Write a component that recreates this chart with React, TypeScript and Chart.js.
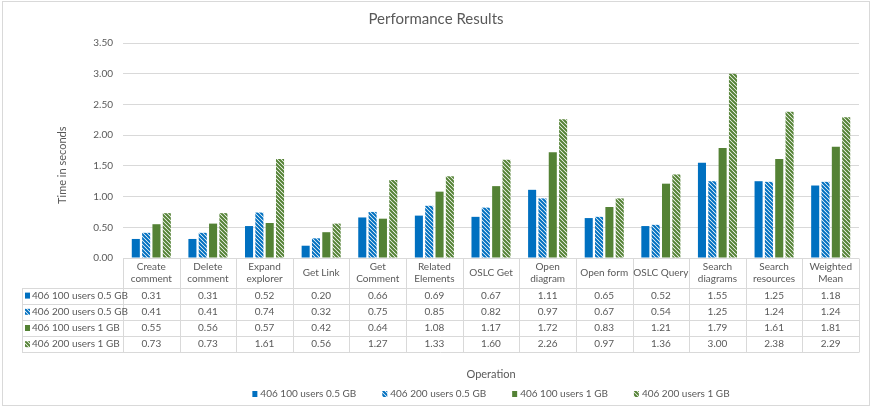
import { useEffect, useRef } from 'react';
import { Chart, registerables } from 'chart.js';

Chart.register(...registerables);

const categories: string[][] = [
  ['Create', 'comment'],
  ['Delete', 'comment'],
  ['Expand', 'explorer'],
  ['Get Link'],
  ['Get', 'Comment'],
  ['Related', 'Elements'],
  ['OSLC Get'],
  ['Open', 'diagram'],
  ['Open form'],
  ['OSLC Query'],
  ['Search', 'diagrams'],
  ['Search', 'resources'],
  ['Weighted', 'Mean'],
];

const seriesNames = [
  '406 100 users 0.5 GB',
  '406 200 users 0.5 GB',
  '406 100 users 1 GB',
  '406 200 users 1 GB',
];

const users100Half = [0.31, 0.31, 0.52, 0.2, 0.66, 0.69, 0.67, 1.11, 0.65, 0.52, 1.55, 1.25, 1.18];
const users200Half = [0.41, 0.41, 0.74, 0.32, 0.75, 0.85, 0.82, 0.97, 0.67, 0.54, 1.25, 1.24, 1.24];
const users100One = [0.55, 0.56, 0.57, 0.42, 0.64, 1.08, 1.17, 1.72, 0.83, 1.21, 1.79, 1.61, 1.81];
const users200One = [0.73, 0.73, 1.61, 0.56, 1.27, 1.33, 1.6, 2.26, 0.97, 1.36, 3.0, 2.38, 2.29];

const yTickValues = [0, 0.5, 1, 1.5, 2, 2.5, 3, 3.5];

const chartTitle = 'Performance Results';
const yTitle = 'Time in seconds';
const xTitle = 'Operation';

const BLUE = '#0070C0';
const GREEN = '#548235';
const TEXT = '#595959';
const GRID = '#d9d9d9';
const FONT = 'Lato, "Noto Sans", sans-serif';

const HEADER_H = 29;
const ROW_H = 16.2;
const TABLE_LEFT = 22;

function hatch(color: string): CanvasPattern | string {
  const c = document.createElement('canvas');
  c.width = 4;
  c.height = 4;
  const g = c.getContext('2d');
  if (!g) return color;
  g.fillStyle = '#ffffff';
  g.fillRect(0, 0, 4, 4);
  g.strokeStyle = color;
  g.lineWidth = 2;
  g.beginPath();
  g.moveTo(-1, -1);
  g.lineTo(5, 5);
  g.moveTo(-1, 3);
  g.lineTo(1, 5);
  g.moveTo(3, -1);
  g.lineTo(5, 1);
  g.stroke();
  return g.createPattern(c, 'repeat') || color;
}

const tablePlugin = {
  id: 'dataTable',
  afterDraw(chart: any) {
    const ctx: CanvasRenderingContext2D = chart.ctx;
    const xs = chart.scales.x;
    const area = chart.chartArea;
    const n = categories.length;
    const w = (xs.right - xs.left) / n;
    const top = Math.round(area.bottom) + 0.5;
    const headerBottom = top + HEADER_H;
    const rowsBottom = headerBottom + ROW_H * seriesNames.length;
    const datasets = chart.data.datasets;

    ctx.save();
    // outer border
    ctx.strokeStyle = GRID;
    ctx.lineWidth = 1;
    ctx.strokeRect(2.5, 1.5, chart.width - 5, chart.height - 2);

    // table lines
    ctx.beginPath();
    ctx.moveTo(xs.left, top);
    ctx.lineTo(xs.right, top);
    for (let r = 0; r <= seriesNames.length; r++) {
      const y = Math.round(headerBottom + ROW_H * r) + 0.5;
      ctx.moveTo(TABLE_LEFT, y);
      ctx.lineTo(xs.right, y);
    }
    for (let i = 0; i <= n; i++) {
      const x = Math.round(xs.left + w * i) + 0.5;
      ctx.moveTo(x, top);
      ctx.lineTo(x, Math.round(rowsBottom) + 0.5);
    }
    ctx.moveTo(TABLE_LEFT + 0.5, Math.round(headerBottom) + 0.5);
    ctx.lineTo(TABLE_LEFT + 0.5, Math.round(rowsBottom) + 0.5);
    ctx.stroke();

    ctx.fillStyle = TEXT;
    ctx.font = `10px ${FONT}`;
    ctx.textAlign = 'center';
    ctx.textBaseline = 'middle';
    // header
    for (let i = 0; i < n; i++) {
      const cx = xs.getPixelForValue(i);
      const lines = categories[i];
      const lh = 12;
      const y0 = top + HEADER_H / 2 - ((lines.length - 1) * lh) / 2;
      lines.forEach((t, k) => ctx.fillText(t, cx, y0 + k * lh));
    }
    // rows
    datasets.forEach((ds: any, r: number) => {
      const cy = headerBottom + ROW_H * (r + 0.5);
      for (let i = 0; i < n; i++) {
        ctx.fillStyle = TEXT;
        ctx.textAlign = 'center';
        ctx.fillText(Number(ds.data[i]).toFixed(2), xs.getPixelForValue(i), cy);
      }
      ctx.fillStyle = ds.backgroundColor;
      ctx.fillRect(TABLE_LEFT + 3, cy - 3, 5, 6);
      ctx.fillStyle = TEXT;
      ctx.textAlign = 'left';
      ctx.fillText(ds.label, TABLE_LEFT + 10, cy);
    });

    // y title
    ctx.save();
    ctx.font = `11px ${FONT}`;
    ctx.textAlign = 'center';
    ctx.translate(62, (area.top + headerBottom) / 2);
    ctx.rotate(-Math.PI / 2);
    ctx.fillText(yTitle, 0, 0);
    ctx.restore();

    // legend
    ctx.font = `10px ${FONT}`;
    ctx.textAlign = 'left';
    const gap = 26;
    const widths = datasets.map((ds: any) => 8 + ctx.measureText(ds.label).width);
    const total = widths.reduce((a: number, b: number) => a + b, 0) + gap * (widths.length - 1);
    let lx = (xs.left + xs.right) / 2 - total / 2;
    const ly = 394;
    datasets.forEach((ds: any, k: number) => {
      ctx.fillStyle = ds.backgroundColor;
      ctx.fillRect(lx, ly - 3, 5, 6);
      ctx.fillStyle = TEXT;
      ctx.fillText(ds.label, lx + 8, ly);
      lx += widths[k] + gap;
    });
    ctx.restore();
  },
};

export default function App() {
  const ref = useRef<HTMLCanvasElement | null>(null);

  useEffect(() => {
    document.body.style.margin = '0';
    const canvas = ref.current;
    if (!canvas) return;
    const blueHatch = hatch(BLUE);
    const greenHatch = hatch(GREEN);
    const chart = new Chart(canvas, {
      type: 'bar',
      data: {
        labels: categories.map((c) => c.join(' ')),
        datasets: [
          { label: seriesNames[0], data: users100Half, backgroundColor: BLUE },
          { label: seriesNames[1], data: users200Half, backgroundColor: blueHatch as any },
          { label: seriesNames[2], data: users100One, backgroundColor: GREEN },
          { label: seriesNames[3], data: users200One, backgroundColor: greenHatch as any },
        ],
      },
      options: {
        responsive: false,
        animation: false,
        devicePixelRatio: 1,
        layout: { padding: { top: 4, left: 13, right: 13, bottom: 23 } },
        datasets: { bar: { categoryPercentage: 0.73, barPercentage: 0.78 } },
        plugins: {
          legend: { display: false },
          tooltip: { enabled: false },
          title: {
            display: true,
            text: chartTitle,
            color: TEXT,
            font: { family: FONT, size: 15, weight: 'normal' },
            padding: { top: 6, bottom: 15 },
          },
        },
        scales: {
          x: {
            grid: { display: false },
            border: { display: false },
            ticks: { display: false },
            title: {
              display: true,
              text: xTitle,
              color: TEXT,
              font: { family: FONT, size: 11 },
              padding: { top: 0, bottom: 2 },
            },
            afterFit: (scale: any) => {
              scale.height = 125;
            },
          },
          y: {
            min: 0,
            max: 3.5,
            afterBuildTicks: (scale: any) => {
              scale.ticks = yTickValues.map((v) => ({ value: v }));
            },
            grid: { color: GRID, drawTicks: false },
            border: { display: false },
            ticks: {
              color: TEXT,
              padding: 10,
              font: { family: FONT, size: 10 },
              callback: (v: any) => Number(v).toFixed(2),
            },
            afterFit: (scale: any) => {
              scale.width = 110;
            },
          },
        },
      },
      plugins: [tablePlugin],
    });
    return () => chart.destroy();
  }, []);

  return (
    <div style={{ width: 872, height: 406 }}>
      <canvas ref={ref} width={872} height={406} />
    </div>
  );
}
